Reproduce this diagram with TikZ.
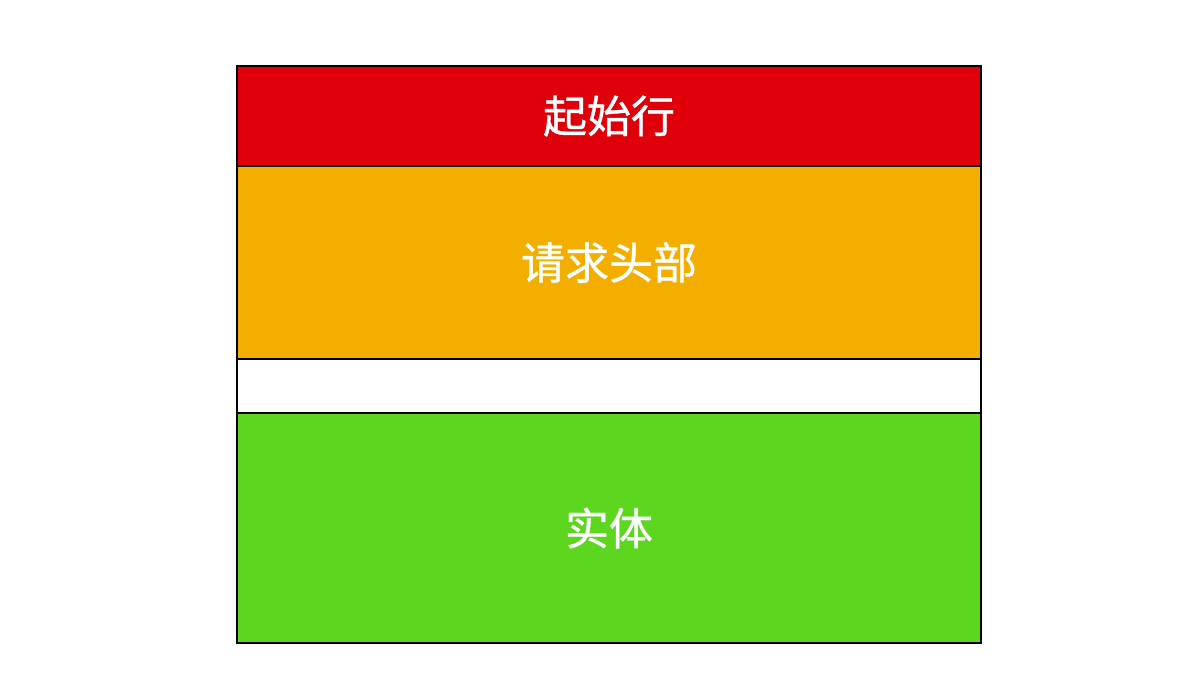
\documentclass[tikz,border=0pt]{standalone}
\usepackage{fontspec}
\newfontfamily\cjk[FakeBold=0.9]{Noto Sans CJK SC}
\usetikzlibrary{positioning}
\definecolor{linered}{HTML}{E0000A}
\definecolor{headorange}{HTML}{F3AE00}
\definecolor{bodygreen}{HTML}{5CD61E}
\tikzset{%
	part/.style={draw=black, line width=1.5pt, rectangle, minimum width=744pt,%
		inner sep=0pt, outer sep=0pt, text=white, font=\cjk\fontsize{44}{50}\selectfont},
	startline/.style={fill=linered, minimum height=100pt},
	headers/.style={fill=headorange, minimum height=193pt},
	blankline/.style={fill=white, minimum height=54pt},
	entity/.style={fill=bodygreen, minimum height=230pt}
}
\begin{document}
\begin{tikzpicture}
	\useasboundingbox (0pt,0pt) rectangle (1186pt,-698pt);
	\node[part, startline] (start) at (609pt,-116pt) {起始行};
	\node[part, headers, below=0pt of start] (head) {请求头部};
	\node[part, blankline, below=0pt of head] (blank) {};
	\node[part, entity, below=0pt of blank] (body) {实体};
\end{tikzpicture}
\end{document}
